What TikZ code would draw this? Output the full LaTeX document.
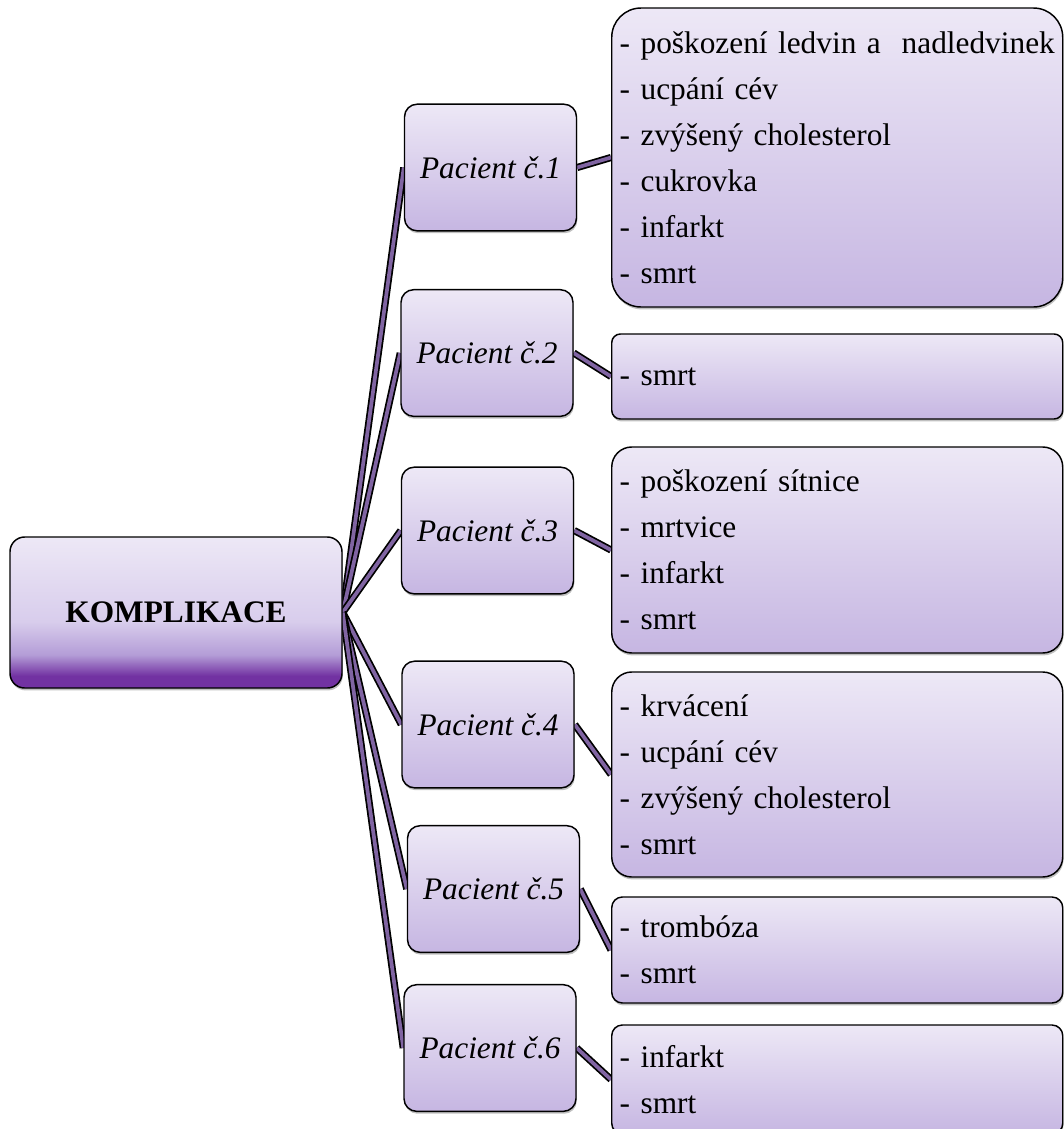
\documentclass[tikz,border=0pt]{standalone}
\usepackage{fontspec}
\setmainfont{Liberation Serif}
\usetikzlibrary{shadows}

\definecolor{boxtop}{RGB}{237,232,246}
\definecolor{boxbot}{RGB}{198,182,226}
\definecolor{rootdeep}{RGB}{114,50,162}
\definecolor{rootmid}{RGB}{180,157,215}
\definecolor{rootpale}{RGB}{216,205,236}
\definecolor{linkfill}{RGB}{128,100,162}

% vertical shading of the root box (path spans 25bp..75bp)
\pgfdeclareverticalshading{rootshading}{100bp}{%
  color(0bp)=(rootdeep); color(25bp)=(rootdeep); color(29bp)=(rootdeep);
  color(36bp)=(rootmid); color(47bp)=(rootpale); color(75bp)=(boxtop);
  color(100bp)=(boxtop)}

\pgfdeclarelayer{canvas}
\pgfdeclarelayer{links}
\pgfsetlayers{canvas,links,main}

\tikzset{
  txt/.style={font=\fontsize{23.5}{34.5}\selectfont},
  shadowed/.style={drop shadow={shadow xshift=0.6pt, shadow yshift=-1.8pt,
      opacity=0.35, fill=black!70}},
  box/.style={txt, draw=black, line width=1.1pt, top color=boxtop,
      bottom color=boxbot, shadowed},
  rootbox/.style={txt, draw=black, line width=1.1pt, shading=rootshading,
      shadowed, rounded corners=11pt, minimum width=249pt,
      minimum height=113.25pt, inner sep=0pt, font=\fontsize{23.5}{34.5}\selectfont\bfseries},
  patient/.style={box, rounded corners=9.5pt, minimum width=129pt,
      minimum height=95pt, inner sep=0pt,
      font=\fontsize{23.5}{34.5}\selectfont\itshape},
  detail/.style={box, text width=326.25pt, inner xsep=6pt, inner ysep=0pt,
      align=left, anchor=west},
  link/.style={draw=black, line width=1.3pt, double=linkfill,
      double distance=2.8pt},
}

\begin{document}
\begin{tikzpicture}[x=0.75pt,y=-0.75pt]
  \begin{pgfonlayer}{canvas}
    \fill[white] (0,0) rectangle (1064,1129);
  \end{pgfonlayer}
  \useasboundingbox (0,0) rectangle (1064,1129);

  % root
  \node[rootbox] (root) at (176,612.5) {KOMPLIKACE};

  % patients
  \node[patient] (p1) at (490.5,167.5) {Pacient č.1};
  \node[patient] (p2) at (487,353)    {Pacient č.2};
  \node[patient] (p3) at (487.5,530.5) {Pacient č.3};
  \node[patient] (p4) at (488,724.5)  {Pacient č.4};
  \node[patient] (p5) at (493.5,889)  {Pacient č.5};
  \node[patient] (p6) at (490,1048)   {Pacient č.6};

  % complications per patient
  \node[detail, minimum height=224.25pt, rounded corners=22pt] (d1) at (611,157.5)
    {\mbox{- poškození ledvin a\ \ nadledvinek}\\- ucpání cév\\- zvýšený cholesterol\\- cukrovka\\- infarkt\\- smrt};
  \node[detail, minimum height=63.75pt, rounded corners=6.5pt] (d2) at (611,376.5)
    {- smrt};
  \node[detail, minimum height=154.5pt, rounded corners=15pt] (d3) at (611,550)
    {- poškození sítnice\\- mrtvice\\- infarkt\\- smrt};
  \node[detail, minimum height=153.75pt, rounded corners=15pt] (d4) at (611,774.5)
    {- krvácení\\- ucpání cév\\- zvýšený cholesterol\\- smrt};
  \node[detail, minimum height=79.5pt, rounded corners=8pt] (d5) at (611,950)
    {- trombóza\\- smrt};
  \node[detail, minimum height=81.75pt, rounded corners=8pt] (d6) at (611,1079.5)
    {- infarkt\\- smrt};

  % connectors
  \begin{pgfonlayer}{links}
    \foreach \p in {p1,p2,p3,p4,p5,p6}
      \draw[link] (root.east) -- (\p.west);
    \foreach \i in {1,...,6}
      \draw[link] (p\i.east) -- (d\i.west);
  \end{pgfonlayer}
\end{tikzpicture}
\end{document}
